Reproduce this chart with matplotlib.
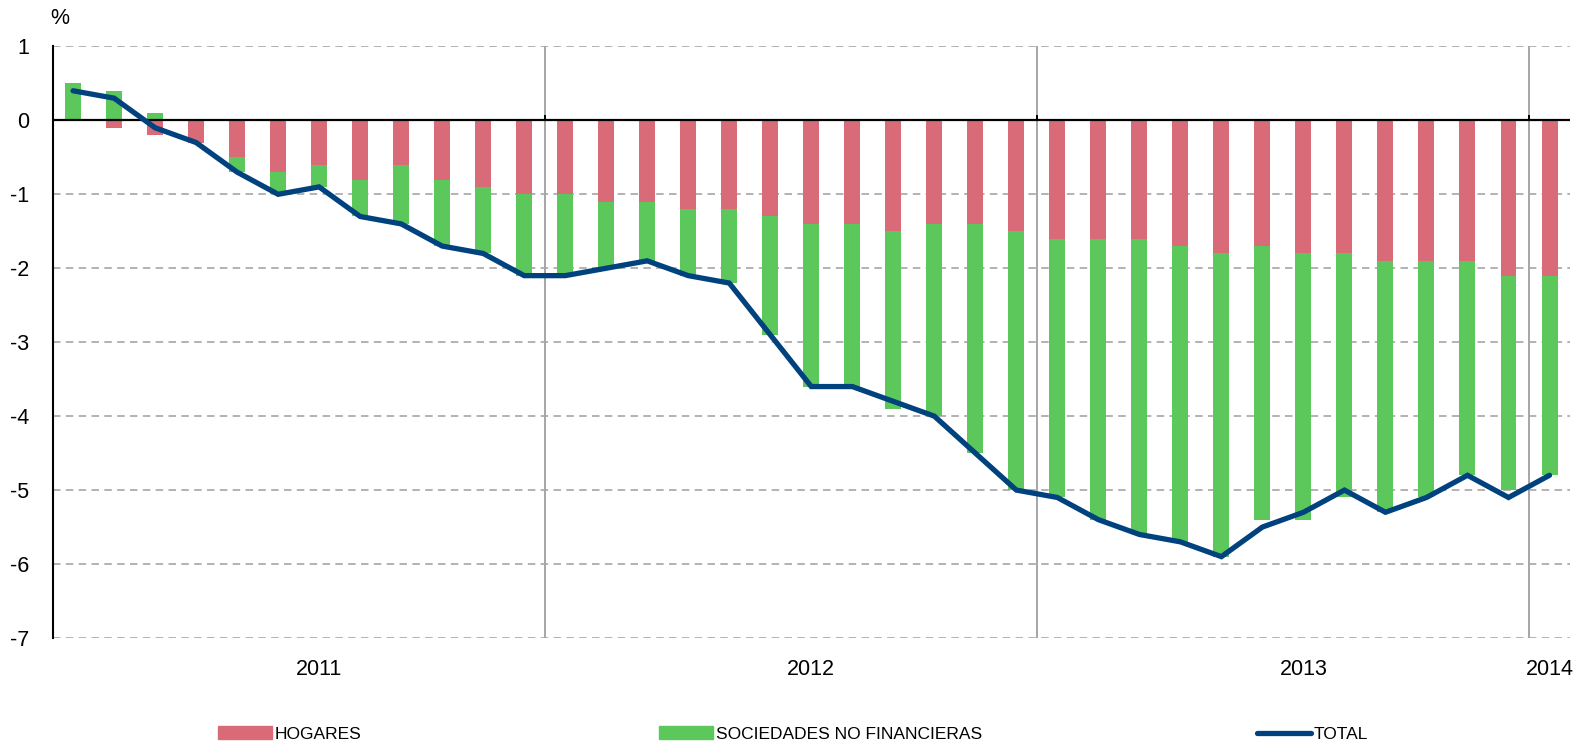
import numpy as np
import matplotlib
matplotlib.use("Agg")
import matplotlib.pyplot as plt
from matplotlib import font_manager
from matplotlib.patches import Patch
from matplotlib.lines import Line2D

plt.rcParams["font.family"] = ["Liberation Sans", "DejaVu Sans"]

# monthly data, Jan 2011 .. Jan 2014
hogares = [0.0, -0.1, -0.2, -0.3, -0.5, -0.7, -0.6, -0.8, -0.6, -0.8, -0.9, -1.0,
           -1.0, -1.1, -1.1, -1.2, -1.2, -1.3, -1.4, -1.4, -1.5, -1.4, -1.4, -1.5,
           -1.6, -1.6, -1.6, -1.7, -1.8, -1.7, -1.8, -1.8, -1.9, -1.9, -1.9, -2.1,
           -2.1]
sociedades = [0.5, 0.4, 0.1, 0.0, -0.2, -0.3, -0.3, -0.5, -0.8, -0.9, -0.9, -1.1,
              -1.1, -0.9, -0.8, -0.9, -1.0, -1.6, -2.2, -2.2, -2.4, -2.6, -3.1, -3.5,
              -3.5, -3.8, -4.0, -4.0, -4.1, -3.7, -3.6, -3.3, -3.4, -3.2, -2.9, -2.9,
              -2.7]
total = [0.4, 0.3, -0.1, -0.3, -0.7, -1.0, -0.9, -1.3, -1.4, -1.7, -1.8, -2.1,
         -2.1, -2.0, -1.9, -2.1, -2.2, -2.9, -3.6, -3.6, -3.8, -4.0, -4.5, -5.0,
         -5.1, -5.4, -5.6, -5.7, -5.9, -5.5, -5.3, -5.0, -5.3, -5.1, -4.8, -5.1,
         -4.8]
years = ["2011", "2012", "2013", "2014"]
months_per_year = [12, 12, 12, 1]

RED = "#d96b78"
GREEN = "#5cc85c"
BLUE = "#00427e"
GRID = "#a6a6a6"

# condensed face for the legend, if one is around
installed = {f.name for f in font_manager.fontManager.ttflist}
legend_size = 15
if "Liberation Sans Narrow" in installed:
    legend_family = ["Liberation Sans Narrow", "DejaVu Sans"]
elif "DejaVu Sans Condensed" in installed:
    legend_family = ["DejaVu Sans Condensed", "DejaVu Sans"]
    legend_size = 14
else:
    legend_family = ["Liberation Sans", "DejaVu Sans"]
    legend_size = 12.5

x = np.arange(len(total))
hog = np.array(hogares)
soc = np.array(sociedades)
soc_bottom = np.where(soc < 0, np.minimum(hog, 0), 0)

fig = plt.figure(figsize=(15.83, 7.46), dpi=100)
ax = fig.add_axes([0.0332, 0.1448, 0.9586, 0.793])

w = 0.39
ax.bar(x, hog, width=w, color=RED, zorder=2)
ax.bar(x, soc, width=w, bottom=soc_bottom, color=GREEN, zorder=2)
ax.plot(x, total, color=BLUE, lw=3.8, zorder=4, solid_capstyle="round",
        solid_joinstyle="miter")

ax.set_xlim(-0.5, len(total) - 0.5)
ax.set_ylim(-7, 1)

# year separators and labels
m = np.array(months_per_year)
edges = np.cumsum(m)
starts = edges - m
label_pos = np.minimum(starts + m / 2.0, len(total) - 1)
ax.set_xticks(edges[:-1] - 0.5)
ax.set_xticklabels([])
ax.set_xticks(label_pos, minor=True)
ax.set_xticklabels(years, minor=True, fontsize=15.5)
ax.tick_params(axis="x", which="both", length=0)
ax.tick_params(axis="x", which="minor", pad=15)
ax.grid(axis="x", which="major", color=GRID, lw=1.4, ls="-", zorder=1)
ax.vlines(edges[:-1] - 0.5, 0, 0.07, color="black", lw=1.4, zorder=3)

ax.set_yticks(np.arange(-7, 2, 1))
ax.set_yticklabels([str(v) for v in range(-7, 2)], fontsize=15.5)
ax.tick_params(axis="y", length=0, pad=17)
ax.grid(axis="y", color=GRID, lw=1.2, ls=(0, (4.5, 3.2)), zorder=1)
ax.axhline(0, color="black", lw=1.6, zorder=3)

for s in ["top", "right", "bottom"]:
    ax.spines[s].set_visible(False)
ax.spines["left"].set_color("black")
ax.spines["left"].set_linewidth(1.5)
ax.spines["left"].set_zorder(5)

fig.text(60 / 1583, 1 - 19 / 746, "%", fontsize=15.5, ha="center", va="center")

handles = [Patch(color=RED, label="HOGARES"),
           Patch(color=GREEN, label="SOCIEDADES NO FINANCIERAS"),
           Line2D([], [], color=BLUE, lw=3.8, solid_capstyle="round", label="TOTAL")]
xs = [218, 659, 1257]
for h, xp in zip(handles, xs):
    fig.legend(handles=[h], loc="center left", bbox_to_anchor=(xp / 1583, 12 / 746),
               frameon=False, borderpad=0, borderaxespad=0, handletextpad=0.15,
               handlelength=54 / (legend_size * 100 / 72), handleheight=0.7,
               prop={"family": legend_family, "size": legend_size})

fig.savefig("out.png", dpi=100)
